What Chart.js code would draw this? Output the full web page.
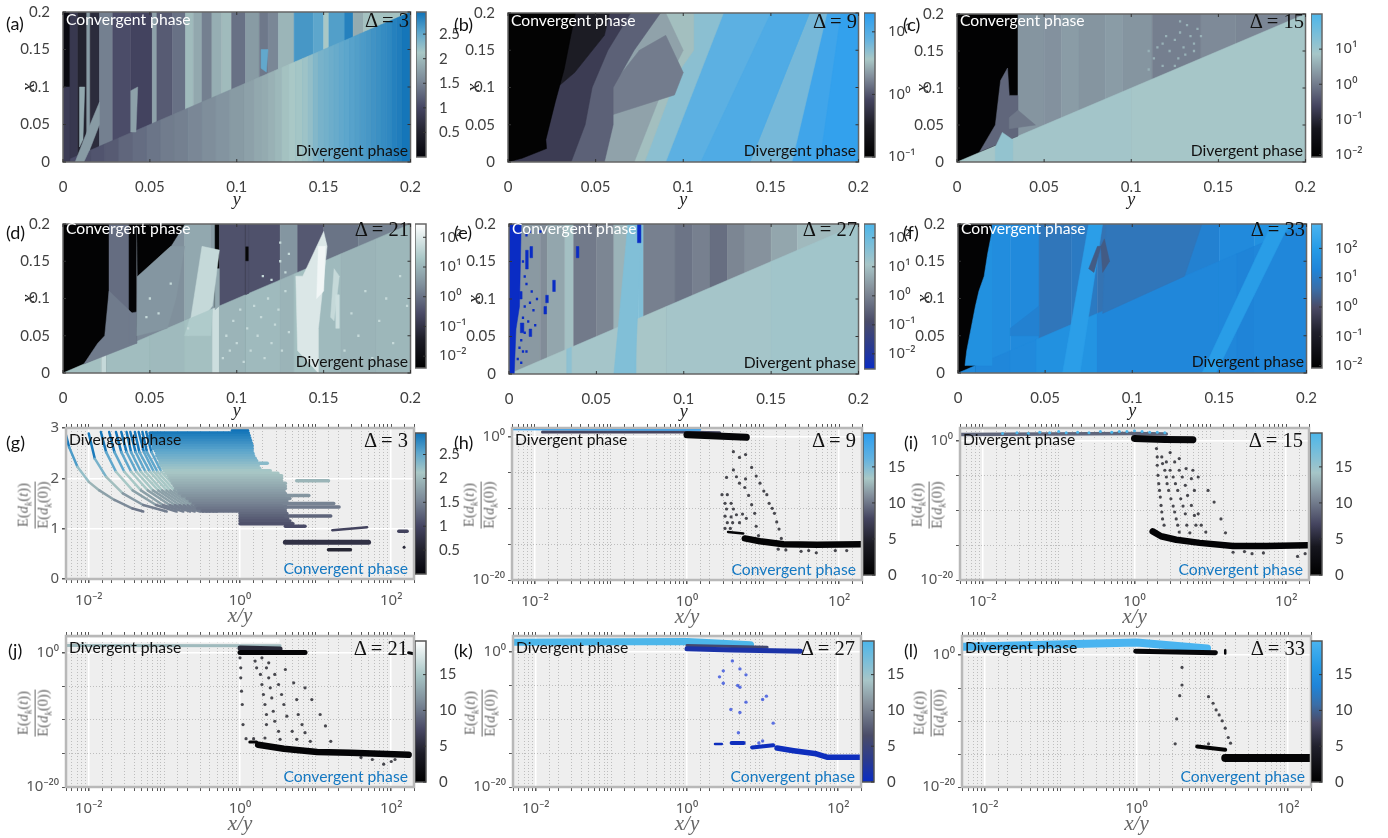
<!DOCTYPE html>
<html>
<head>
<meta charset="utf-8">
<script src="https://cdn.jsdelivr.net/npm/chart.js@4/dist/chart.umd.js"></script>
<style>
  body { margin: 0; background: #fff; }
  #page { position: relative; width: 1388px; height: 838px; overflow: hidden; font-family: Lato, sans-serif; }
  canvas { position: absolute; }
  .lbl { position: absolute; white-space: nowrap; line-height: 1; transform: translateY(-50%); }
  .panel { font-size: 18px; color: #111; }
  .phase { font-size: 15.7px; }
  .delta { font-family: "Liberation Serif", serif; font-size: 20.5px; color: #111; }
  .frac { position: absolute; transform: translate(-50%, -50%) rotate(-90deg); text-align: center; font: 14.5px "Liberation Serif", serif; color: #666; white-space: nowrap; line-height: 1.05; }
  .frac i { font-style: italic; }
  .frac div:first-child { border-bottom: 1px solid #666; padding-bottom: 1px; }
  .frac sub { font-size: 10px; }
</style>
</head>
<body>
<div id="page"></div>
<script>
// ─── Tick values ─────────────────────────────────────────────────────────
const heatTicks = [0, 0.05, 0.1, 0.15, 0.2];
const ratioTicks = [0, 1, 2, 3];
const growthTicks = [1e-20, 1e-15, 1e-10, 1e-5, 1];
const barTicksA = [0.5, 1, 1.5, 2, 2.5];
const barTicksB = [0.1, 1, 10];
const barTicksC = [0.01, 0.1, 1, 10];
const barTicksD = [0.01, 0.1, 1, 10, 100];
const barTicksLinear = [0, 5, 10, 15];

// ─── Heat maps: [y start, colour bar level 0-100] ────────────────────────
const aUpper = [[0,3],[.004,28],[.0086,18],[.0137,58],[.0156,22],[.021,50],[.0286,36],[.039,33],[.0514,60],[.054,40],[.063,46],[.0705,68],[.075,62],[.08,50],[.0857,64],[.0914,68],[.097,46],[.105,58],[.113,48],[.118,52],[.124,66],[.133,90],[.144,86],[.15,72],[.153,88],[.162,96],[.167,63],[.173,70]];
const aLower = [[0,36],[.008,37],[.016,38],[.024,40],[.032,43],[.04,45],[.048,47],[.056,49],[.064,50],[.072,52],[.08,54],[.088,56],[.096,58],[.104,60],[.11,62],[.114,63],[.118,65],[.122,67],[.126,70],[.13,72],[.134,73],[.138,74],[.141,76],[.144,79],[.147,81],[.15,82],[.153,83],[.156,84],[.159,85],[.162,86],[.165,87],[.168,88],[.171,89],[.174,90],[.177,91],[.18,92],[.183,93],[.186,94],[.189,96],[.192,97],[.195,99]];
// patches: [level, y, x, y, x, ...] painted after the stripes
const aPatches = [
  [30,0,0,.004,0,.004,.1,0,.1],
  [58,.007,0,.012,.03,.021,.08,.021,.05,.016,.02,.012,0],
  [60,.039,.04,.042,.04,.043,.1,.039,.095],
  [85,.114,.125,.117,.12,.118,.15,.114,.15],
  [62,.0095,.02,.0115,.03,.0125,.1,.0095,.1],
];

const bPatches = [
  [93,0,0,.2,0,.2,.2,0,.2],
  [97,.178,0,.2,0,.2,.2,.19,.2],
  [100,.12,0,.14,0,.175,.2,.168,.2],
  [78,.138,0,.162,0,.182,.2,.172,.2],
  [84,.09,0,.138,0,.172,.2,.123,.2],
  [88,.11,0,.138,0,.172,.2,.15,.2],
  [74,.078,0,.09,0,.123,.2,.106,.2],
  [66,0,0,.078,0,.097,.12,.106,.15,.106,.2,0,.2],
  [60,0,0,.072,0,.087,.09,.1,.15,.09,.2,0,.2],
  [52,.055,.06,.095,.09,.1,.12,.09,.17,.075,.15,.055,.09],
  [46,0,0,.055,0,.06,.05,.06,.1,.072,.15,.087,.2,0,.2],
  [36,0,0,.036,0,.044,.05,.048,.1,.057,.15,.07,.2,0,.2],
  [22,.028,.1,.038,.12,.055,.17,.058,.2,.036,.2],
  [2,0,0,.008,.005,.022,.018,.0216,.03,.027,.081,.032,.124,.0357,.168,.0385,.2,0,.2],
];

const cUpper = [[0,2],[.035,58],[.05,57],[.06,60],[.07,58],[.085,60],[.095,58],[.112,52],[.14,55],[.16,54]];
const cLower = [[0,72],[.03,73],[.1,72]];
const cPatches = [
  [45,.013,.014,.022,.05,.025,.11,.029,.127,.03,.09,.035,.09,.035,.035],
  [50,.03,.045,.045,.05,.035,.07,.03,.06],
  [78,.022,0,.032,0,.032,.03,.026,.04,.022,.02],
];
// stipple: [y, x] isolated cells
const cStipple = [[.11,.125],[.113,.14],[.115,.155],[.118,.13],[.12,.17],[.122,.15],[.125,.165],[.127,.14],[.128,.175],[.13,.155],[.132,.185],[.134,.17],[.136,.16],[.138,.18],[.14,.17],[.125,.13],[.118,.16],[.131,.145],[.136,.15],[.128,.19],[.11,.15]];

const dUpper = [[0,2],[.0265,48],[.038,3],[.0425,56],[.06,58],[.07,66],[.085,62],[.0875,4],[.09,40],[.105,4],[.107,40],[.125,60],[.135,42],[.15,50],[.17,54]];
const dLower = [[0,74],[.022,84],[.025,73],[.05,72],[.07,74],[.086,86],[.09,70],[.105,72],[.125,70],[.133,74],[.147,72],[.16,70],[.18,71]];
const dPatches = [
  [52,.012,.012,.02,.04,.024,.05,.0265,.11,.04,.08,.0425,.04],
  [2,.043,.13,.048,.14,.062,.17,.07,.2,.0425,.2],
  [52,.038,.04,.0425,.04,.0425,.082,.038,.08],
  [60,.0425,.05,.06,.06,.065,.1,.07,.17,.062,.17,.043,.13],
  [66,.0875,.085,.09,.09,.09,.14,.0875,.14],
  [40,.105,.105,.107,.107,.107,.15,.105,.15],
  [40,.105,.17,.107,.17,.107,.2,.105,.2],
  [84,.072,.05,.086,.09,.09,.165,.08,.17],
  [78,.07,.05,.085,.05,.086,.086,.073,.073],
  [90,.135,.03,.147,0,.147,.06,.152,.17,.15,.19,.138,.13,.134,.13],
  [96,.146,.1,.15,.11,.151,.17,.147,.17],
  [84,.154,.075,.156,.07,.159,.13,.156,.14],
  [86,.157,.06,.159,.06,.159,.105,.157,.105],
];
const dStipple = [[.092,.02],[.094,.05],[.096,.03],[.098,.07],[.1,.04],[.102,.085],[.104,.015],[.106,.06],[.108,.03],[.11,.09],[.112,.05],[.114,.075],[.116,.02],[.118,.1],[.12,.04],[.122,.065],[.124,.085],[.126,.03],[.128,.11],[.13,.055],[.162,.03],[.166,.08],[.17,.05],[.174,.11],[.178,.02],[.182,.07],[.186,.1],[.19,.04],[.194,.13],[.198,.09],[.115,.13],[.12,.125],[.125,.15],[.128,.135],[.125,.175],[.13,.16],[.072,.06],[.076,.095],[.055,.08],[.05,.1],[.062,.12],[.048,.075]];

const eUpper = [[0,58],[.018,54],[.022,62],[.032,70],[.037,48],[.05,52],[.06,66],[.068,84],[.074,84],[.077,50],[.095,46],[.105,50],[.115,44],[.125,52],[.135,56],[.15,62],[.165,68]];
const eLower = [[0,72],[.033,80],[.036,73],[.068,84],[.073,72],[.09,73],[.15,74]];
const ePatches = [
  [84,.06,0,.072,0,.076,.2,.068,.2],
  [0,0,0,.003,0,.004,.06,.006,.09,.007,.2,0,.2],
  [0,.0735,.175,.0755,.175,.0755,.2,.0735,.2],
  [0,.0095,.14,.011,.14,.011,.165,.0095,.165],
  [0,.012,.155,.0135,.155,.0135,.17,.012,.17],
  [0,.025,.11,.0265,.11,.0265,.125,.025,.125],
  [0,.021,.095,.0225,.095,.0225,.105,.021,.105],
  [0,.0385,.155,.04,.155,.04,.17,.0385,.17],
  [0,.006,.1,.0075,.1,.0075,.11,.006,.11],
  [0,.0065,.055,.0085,.055,.0085,.068,.0065,.068],
  [0,.0115,.05,.013,.05,.013,.06,.0115,.06],
  [0,.02,.08,.0215,.08,.0215,.09,.02,.09],
];
const eStipple = [[.005,.02],[.006,.035],[.007,.045],[.008,.075],[.009,.09],[.01,.03],[.011,.07],[.012,.095],[.013,.11],[.014,.085],[.015,.065],[.016,.1],[.01,.12],[.009,.13],[.008,.15],[.01,.185],[.012,.19],[.018,.19],[.008,.03],[.007,.015],[.009,.055]];

const fUpper = [[0,2],[.0195,74],[.03,72],[.0465,60],[.065,62],[.08,58],[.1,62],[.13,66],[.15,72],[.17,76]];
const fLower = [[0,72],[.01,70],[.03,72],[.045,76],[.07,78],[.08,70],[.15,70],[.16,68],[.17,70]];
const fPatches = [
  [76,.004,.01,.0195,.01,.0195,.19,.017,.16,.015,.13,.012,.11,.01,.09,.005,.03],
  [66,.03,.05,.0465,.05,.0465,.09,.03,.06],
  [85,.06,0,.07,0,.083,.2,.075,.2],
  [60,.083,.08,.13,.13,.14,.2,.085,.2],
  [84,.14,0,.148,0,.19,.2,.18,.2],
  [48,.075,.14,.08,.17,.082,.17,.078,.135],
  [48,.083,.135,.087,.15,.084,.18,.082,.17],
];

// ─── Scatter panels: values in decades, [log10(x/y), log10(ratio)] ───────
// (g) rows: [ratio, left decade, right decade]
const gRows = [[2.95,-.1,.1],[2.9,-1.19,.11],[2.85,-1.19,.12],[2.8,-1.19,.13],[2.75,-1.19,.14],[2.7,-1.19,.15],[2.65,-1.15,.16],[2.6,-1.15,.16],[2.55,-1.12,.16],[2.5,-1.1,.17],[2.45,-1.1,.18],[2.4,-1.08,.2],[2.35,-1.06,.22],[2.3,-1.06,.36],[2.25,-1.04,.24],[2.2,-1.02,.26],[2.15,-1,.4],[2.1,-.98,.5],[2.05,-.95,.55],[2,-.93,.55],[1.95,-.91,.55],[1.9,-.89,.6],[1.85,-.87,.6],[1.8,-.85,.6],[1.75,-.82,.58],[1.7,-.8,.6],[1.65,-.76,.66],[1.6,-.7,.66],[1.55,-.66,.62],[1.5,-.62,.62],[1.45,-.58,.6],[1.4,-.56,.6],[1.35,-.5,.6],[1.3,0,.62],[1.25,0,.6],[1.2,0,.63],[1.15,0,.66],[1.1,0,.7],[1.05,.6,.86],[1.95,.75,1.17],[1.66,.62,.91],[1.5,.58,1.24],[1.43,.6,1.31],[1.25,.6,1.2],[.73,.6,1.7],[.58,1.17,1.46],[.95,2.1,2.21]];
const gArcTops = [2.92, 2.52, 2.13, 1.76, 1.47, 1.34];
const gArcs = [
  [-1.84,-1.77,-1.64,-1.42,-1.11,-.84],
  [-1.73,-1.66,-1.53,-1.31,-1.02,-.75],
  [-1.64,-1.57,-1.44,-1.22,-.93,-.66],
  [-1.57,-1.50,-1.37,-1.15,-.86,-.60],
  [-1.50,-1.44,-1.31,-1.08,-.80,-.53],
  [-1.45,-1.38,-1.25,-1.03,-.74,-.49],
  [-1.39,-1.33,-1.19,-.97,-.69,-.44],
  [-1.34,-1.27,-1.14,-.92,-.64,-.40],
  [-1.29,-1.23,-1.09,-.87,-.60,-.35],
  [-1.24,-1.17,-1.04,-.82,-.55,-.31],
];
const gArcOuter = [[-2.31,2.91],[-2.26,2.62],[-2.15,2.23],[-2,1.93],[-1.86,1.76],[-1.66,1.57],[-1.42,1.40],[-1.28,1.34]];
const gArcSecond = [[-2,2.89],[-1.92,2.39],[-1.77,2.03],[-1.55,1.70],[-1.28,1.47],[-.97,1.34]];
const gTilted = [[1.22,.97],[1.68,1.03]];
const gDots = [[2.17,.63]];

const hDots = [[.61,-2.1],[.69,-2.9],[.77,-2.5],[.61,-4.65],[.85,-4.3],[.52,-5.7],[.65,-5.6],[.77,-5.9],[.91,-5.5],[.69,-6.5],[.76,-7.1],[.96,-6.5],[.46,-8.1],[.53,-8.1],[.81,-8.2],[1.01,-7.6],[1.05,-8.1],[.5,-9.3],[.58,-9.3],[.85,-9.5],[1.08,-9.3],[.52,-10.1],[.61,-10.1],[.89,-10.7],[1.12,-10],[1.15,-10.7],[.5,-11.1],[.58,-11.2],[.65,-10.9],[.73,-10.8],[.78,-11.4],[1.18,-11.9],[.53,-12],[.6,-12],[.69,-12],[.91,-12.5],[1.21,-12.9],[.5,-12.8],[.57,-12.8],[.94,-13.8],[1.24,-14.2],[1.3,-15.8],[1.5,-16],[1.6,-15.9],[1.7,-16.2],[1.95,-15.9],[2.1,-15.9],[1.2,-15.7]];
const hCyan = [[-2.32,1.05],[.17,1.0]];
const hSlate = [[-1.9,.65],[-.05,.65],[.43,.55]];
const hTop = [[0,.25],[.39,.1],[.78,-.1]];
const hLowA = [[.54,-13.3],[.74,-13.5]];
const hLowB = [[.76,-14.2],[.96,-14.6],[1.27,-15],[1.71,-15.1],[2.32,-15]];

const iDots = [[.29,-1.06],[.3,-2.27],[.3,-3.47],[.31,-4.92],[.32,-6.12],[.33,-7.09],[.34,-8.05],[.35,-9.25],[.36,-10.2],[.37,-11.2],[.39,-12.1],
  [.36,-2.27],[.37,-3.23],[.4,-4.19],[.42,-5.16],[.43,-6.12],[.45,-7.09],[.48,-8.29],[.51,-9.35],[.53,-10.2],[.55,-11.2],[.57,-12.1],[.59,-13.1],
  [.42,-2.99],[.47,-4.19],[.51,-5.16],[.54,-6.12],[.57,-7.09],[.61,-8.29],[.64,-9.35],[.67,-10.46],[.69,-12.1],[.73,-13.2],
  [.47,-1.64],[.53,-2.99],[.59,-4.19],[.63,-5.16],[.67,-6.36],[.7,-7.81],[.75,-9.25],[.79,-10.7],[.81,-12.1],
  [.59,-2.5],[.68,-3.95],[.75,-5.4],[.79,-7.09],[.84,-10.46],[.88,-12.1],[.94,-13.1],
  [.77,-4.19],[.84,-5.16],[.97,-7.09],[1.05,-8.77],[1.14,-11.2],[1.2,-13.2],
  [1.3,-16],[1.45,-15.9],[1.55,-16.2],[1.7,-16.1],[2.15,-16.6],[2.25,-16.2]];
const iFlecks = [[-1.74,1.1],[-1.55,1.2],[-1.4,1.1],[-1.25,1.3],[-1.12,1.2],[-1,1.4],[-.9,1.2],[-.75,1.3],[-.6,1.2],[-.45,1.4],[-.3,1.3],[-.2,1.4],[-.1,1.4],[0,1.5],[.1,1.4],[.2,1.3],[.3,1.3],[.4,1.2]];
const iSlate = [[-2.29,.96],[-.02,1.1],[.42,1.05]];
const iTop = [[0,.4],[.4,.25],[.77,.2]];
const iLow = [[.24,-13],[.35,-13.7],[.55,-14.2],[.86,-14.65],[1.3,-15.1],[1.74,-15.1],[2.29,-15]];

const jDots = [[0,-.75],[.01,-2.24],[.01,-3.73],[.02,-5.72],[.03,-7.71],[.04,-10.7],
  [.2,-1.24],[.22,-2.24],[.27,-3.23],[.29,-4.73],[.31,-6.22],[.33,-7.71],[.35,-9.2],[.35,-10.7],[.33,-12.7],
  [.29,-.75],[.35,-2.24],[.38,-3.73],[.4,-5.22],[.42,-6.72],[.44,-8.71],[.46,-10.2],[.51,-11.7],[.53,-12.9],
  [.38,-1.49],[.46,-3.23],[.51,-4.73],[.55,-6.22],[.58,-7.71],[.62,-9.45],[.69,-11.7],[.75,-12.9],
  [.6,-2.49],[.71,-4.48],[.75,-6.97],[.77,-9.2],[.82,-10.7],[.86,-11.9],[.93,-13.2],
  [.86,-5.22],[.95,-6.97],[1.06,-9.2],[1.13,-10.9],[1.2,-13.2],
  [1.9,-16.6],[2.0,-16.2],[2.05,-15.9],[1.6,-15.6],[1.75,-15.9],[.08,-12.8],[.18,-12.8]];
const jWhite = [[-2.3,1.9],[.5,1.8]];
const jPale = [[-2.3,1.1],[.53,1.05]];
const jSlate = [[0,.7],[.53,.55]];
const jTop = [[0,.05],[.3,.05],[.86,.05]];
const jLowA = [[.13,-13.3],[.22,-13.3]];
const jLowB = [[.24,-13.7],[.58,-14.3],[1.02,-14.8],[1.46,-14.9],[2.23,-15.2]];
const jCorner = [[2.23,0],[2.3,-.15]];

const kDots = [[.6,-1.38],[.48,-2.85],[.7,-2.56],[.43,-3.73],[.78,-3.44],[.48,-4.67],[.67,-5.01],[.7,-5.26],[1.05,-6.58],[1,-7.08],[.78,-7.47],[.58,-8.55],[.7,-8.99],[1.14,-10.57],[.68,-11.99],[1.0,-13.2],[.95,-13.5]];
const kCyan = [[-2.29,1.38],[0,1.5],[.84,1]];
const kSlate = [[0,.9],[1.06,.65]];
const kNavy = [[0,.4],[.6,.25],[1.5,.05]];
const kLowA = [[.37,-13.66],[.46,-13.66]];
const kLowB = [[.59,-13.5],[.75,-13.5]];
const kLowC = [[.86,-14.15],[1.14,-13.85]];
const kLowD = [[1.19,-14.25],[1.41,-14.64],[1.71,-15.1],[1.85,-15.6],[2.29,-15.6]];

const lDots = [[.6,-1.86],[.6,-4.53],[.57,-6.15],[.53,-9.67],[.95,-6.3],[1.01,-7.3],[1.05,-8.31],[1.09,-9.07],[1.13,-9.97],[1.17,-11.08],[1.21,-12.49],[1.24,-13.35],[.51,-13.45],[.95,-13.45]];
const lCyan = [[-2.28,1.26],[0,1.9],[.93,1]];
const lTop = [[-.01,.6],[1.04,.35]];
const lSpot = [[1.17,.75],[1.17,.25]];
const lLowA = [[.8,-13.85],[1.17,-14.36]];
const lLowB = [[1.17,-15.6],[2.29,-15.6]];

// ─── Colour bars, bottom to top ──────────────────────────────────────────
const mapA = [[0,'#04040a'],[.18,'#23232f'],[.34,'#454562'],[.52,'#7a8796'],[.72,'#a9c8c6'],[.86,'#5da6cc'],[1,'#0f72b8']];
const mapB = [[0,'#000000'],[.22,'#1c1c24'],[.4,'#454560'],[.56,'#838f9c'],[.68,'#a9c8c6'],[.82,'#62b2e0'],[1,'#2a9df0']];
const mapC = [[0,'#000000'],[.2,'#16161e'],[.36,'#454560'],[.55,'#7e8a98'],[.72,'#a6c6c8'],[1,'#4cb6ea']];
const mapD = [[0,'#000000'],[.2,'#1c1c26'],[.38,'#4a4a66'],[.58,'#80909c'],[.76,'#a8c6c6'],[1,'#ffffff']];
const mapE = [[0,'#0a2cc4'],[.15,'#2a3a90'],[.33,'#4a4c68'],[.55,'#848f9a'],[.72,'#a8c6c8'],[1,'#4cb6ea']];
const mapF = [[0,'#000000'],[.25,'#20202c'],[.42,'#4a4a66'],[.55,'#3a6ea8'],[.68,'#1f84d8'],[.82,'#259ae6'],[1,'#4ab4f0']];

// ─── Helpers ─────────────────────────────────────────────────────────────
const page = document.getElementById('page');
const FONT = 'Lato, sans-serif';
const TICK_COLOR = '#404040';

function hex(c) { return [1, 3, 5].map(i => parseInt(c.substr(i, 2), 16)); }

/** Colour at position t (0-1) on a colour bar */
function colorAt(map, t) {
    for (let i = 1; i < map.length; i++) {
        if (t <= map[i][0]) {
            const f = (t - map[i - 1][0]) / (map[i][0] - map[i - 1][0]);
            const a = hex(map[i - 1][1]), b = hex(map[i][1]);
            return `rgb(${a.map((v, k) => Math.round(v + (b[k] - v) * f)).join(',')})`;
        }
    }
    return map[map.length - 1][1];
}

function addCanvas(left, top, width, height) {
    const c = document.createElement('canvas');
    c.width = width; c.height = height;
    c.style.left = left + 'px'; c.style.top = top + 'px';
    c.style.width = width + 'px'; c.style.height = height + 'px';
    page.appendChild(c);
    return c;
}

function addLabel(cls, text, left, cy, color, right) {
    const d = document.createElement('div');
    d.className = 'lbl ' + cls;
    d.textContent = text;
    d.style.top = cy + 'px';
    if (right !== undefined) d.style.right = (1388 - right) + 'px';
    else d.style.left = left + 'px';
    if (color) d.style.color = color;
    page.appendChild(d);
}

function addFraction(cx, cy) {
    const d = document.createElement('div');
    d.className = 'frac';
    d.style.left = cx + 'px'; d.style.top = cy + 'px';
    d.innerHTML = '<div>E(<i>d<sub>k</sub></i>(<i>t</i>))</div><div>E(<i>d<sub>k</sub></i>(0))</div>';
    page.appendChild(d);
}

const SUP = { '-': '⁻', '0': '⁰', '1': '¹', '2': '²' };
function powerLabel(v) {
    return '10' + String(Math.round(Math.log10(v))).split('').map(c => SUP[c]).join('');
}

// Fill a dataset's points as a polygon, positions come from the scales
const regionFill = {
    id: 'regionFill',
    beforeDatasetDraw(chart, args) {
        const ds = chart.data.datasets[args.index];
        if (!ds.regionColor) return;
        const { ctx, chartArea: a } = chart;
        ctx.save();
        ctx.beginPath();
        ctx.rect(a.left, a.top, a.right - a.left, a.bottom - a.top);
        ctx.clip();
        ctx.beginPath();
        args.meta.data.forEach((p, i) => i ? ctx.lineTo(p.x, p.y) : ctx.moveTo(p.x, p.y));
        ctx.closePath();
        ctx.fillStyle = ds.regionColor;
        ctx.strokeStyle = ds.regionColor;
        ctx.lineWidth = 0.5;
        ctx.fill();
        ctx.stroke();
        ctx.restore();
    }
};

const plotBackground = {
    id: 'plotBackground',
    beforeDraw(chart, args, opts) {
        if (!opts.color) return;
        const a = chart.chartArea;
        chart.ctx.fillStyle = opts.color;
        chart.ctx.fillRect(a.left, a.top, a.right - a.left, a.bottom - a.top);
    }
};

// Frame round the plot, with optional short ticks pointing inward
const plotFrame = {
    id: 'plotFrame',
    afterDraw(chart, args, opts) {
        const { ctx, chartArea: a, scales } = chart;
        ctx.save();
        ctx.strokeStyle = opts.color;
        ctx.lineWidth = opts.width;
        ctx.strokeRect(a.left, a.top, a.right - a.left, a.bottom - a.top);
        if (opts.inner) {
            ctx.lineWidth = 1;
            ctx.strokeStyle = '#333';
            ctx.beginPath();
            if (scales.x.options.display) {
                scales.x.ticks.forEach(t => {
                    const p = scales.x.getPixelForValue(t.value);
                    ctx.moveTo(p, a.top); ctx.lineTo(p, a.top + 3);
                    ctx.moveTo(p, a.bottom); ctx.lineTo(p, a.bottom - 3);
                });
            }
            scales.y.ticks.forEach(t => {
                const p = scales.y.getPixelForValue(t.value);
                ctx.moveTo(a.right, p); ctx.lineTo(a.right - 3, p);
                if (scales.x.options.display) { ctx.moveTo(a.left, p); ctx.lineTo(a.left + 3, p); }
            });
            ctx.stroke();
        }
        ctx.restore();
    }
};

function polygon(level, coords, map) {
    const data = [];
    for (let i = 0; i < coords.length; i += 2) data.push({ x: coords[i], y: coords[i + 1] });
    return { data, regionColor: colorAt(map, level / 100), pointRadius: 0, showLine: false };
}

/** Stripes above the x=y line run full height, stripes below stop at the line */
function heatDatasets(cfg) {
    const { upper, lower, patches, map } = cfg;
    const sets = [];
    upper.forEach(([y0, level], i) => {
        const y1 = i + 1 < upper.length ? upper[i + 1][0] : 0.2;
        sets.push(polygon(level, [y0, 0, y1, 0, y1, 0.2, y0, 0.2], map));
    });
    lower.forEach(([y0, level], i) => {
        const y1 = i + 1 < lower.length ? lower[i + 1][0] : 0.2;
        sets.push(polygon(level, [y0, 0, y1, 0, y1, y1, y0, y0], map));
    });
    patches.forEach(p => sets.push(polygon(p[0], p.slice(1), map)));
    if (cfg.stipple) {
        sets.push({
            data: cfg.stipple.map(([a, b]) => ({ x: a, y: b })),
            showLine: false, pointStyle: 'rect', pointRadius: 1.6, pointBorderWidth: 0,
            pointBackgroundColor: colorAt(map, cfg.stippleLevel / 100)
        });
    }
    return sets.reverse(); // Chart.js paints the first dataset last
}

// ─── Colour bar chart ────────────────────────────────────────────────────
function colourBar(left, top, width, height, map, min, max, ticks, type, frameColor) {
    const AXIS = 48;
    const canvas = addCanvas(left, top - 9, width + AXIS, height + 18);
    new Chart(canvas, {
        type: 'bar',
        data: {
            labels: [''],
            datasets: [{
                data: [[min, max]],
                barPercentage: 1,
                categoryPercentage: 1,
                backgroundColor: ctx => {
                    const a = ctx.chart.chartArea;
                    if (!a) return '#000';
                    const g = ctx.chart.ctx.createLinearGradient(0, a.bottom, 0, a.top);
                    map.forEach(([t, c]) => g.addColorStop(t, c));
                    return g;
                }
            }]
        },
        options: {
            responsive: false, animation: false,
            layout: { padding: { top: 9, bottom: 9 } },
            plugins: { legend: { display: false }, tooltip: { enabled: false }, plotFrame: { color: frameColor, width: 1.5, inner: true } },
            scales: {
                x: { display: false },
                y: {
                    type, position: 'right', min, max,
                    afterFit: s => { s.width = AXIS; },
                    afterBuildTicks: s => { s.ticks = ticks.map(v => ({ value: v })); },
                    grid: { display: false },
                    border: { display: false },
                    ticks: {
                        padding: 5, color: TICK_COLOR,
                        font: { family: type === 'logarithmic' ? 'Noto Sans' : FONT, size: 15 },
                        callback: v => type === 'logarithmic' ? powerLabel(v) : String(v)
                    }
                }
            }
        },
        plugins: [plotFrame]
    });
}

// ─── Heat map panel ──────────────────────────────────────────────────────
function heatPanel(cfg) {
    const [l, t, w, h] = cfg.rect;
    const L = 49, T = 9, R = 14, B = 53;
    const canvas = addCanvas(l - L, t - T, L + w + R, T + h + B);
    new Chart(canvas, {
        type: 'scatter',
        data: { datasets: heatDatasets(cfg) },
        options: {
            responsive: false, animation: false,
            layout: { padding: { top: T, right: R } },
            plugins: { legend: { display: false }, tooltip: { enabled: false }, plotFrame: { color: '#666', width: 1.5, inner: true } },
            scales: {
                x: {
                    type: 'linear', min: 0, max: 0.2,
                    afterFit: s => { s.height = B; },
                    afterBuildTicks: s => { s.ticks = heatTicks.map(v => ({ value: v })); },
                    grid: { display: false }, border: { display: false },
                    ticks: { padding: 8, maxRotation: 0, color: TICK_COLOR, font: { family: FONT, size: 15 }, callback: v => String(v) },
                    title: { display: true, text: 'y', color: '#222', font: { family: 'Liberation Serif', style: 'italic', size: 18 } }
                },
                y: {
                    type: 'linear', min: 0, max: 0.2,
                    afterFit: s => { s.width = L; },
                    afterBuildTicks: s => { s.ticks = heatTicks.map(v => ({ value: v })); },
                    grid: { display: false }, border: { display: false },
                    ticks: { padding: 5, color: TICK_COLOR, font: { family: FONT, size: 15 }, callback: v => String(v) },
                    title: { display: true, text: 'x', color: '#222', font: { family: 'Liberation Serif', style: 'italic', size: 18 } }
                }
            }
        },
        plugins: [regionFill, plotFrame]
    });
    colourBar(cfg.bar[0], t, cfg.bar[1], h, cfg.map, cfg.barMin, cfg.barMax, cfg.barTicks, cfg.barType, '#666');
    addLabel('panel', cfg.name, cfg.nameX, t + cfg.nameDy);
    addLabel('phase', 'Convergent phase', l + 3, t + cfg.nameDy - 3, '#fff');
    addLabel('phase', 'Divergent phase', 0, t + h - 11, '#111', l + w - 7);
    addLabel('delta', cfg.delta, 0, t + cfg.nameDy - 3, null, l + w - 6);
}

// ─── Scatter panel ───────────────────────────────────────────────────────
function decades(list) { return list.map(([a, b]) => ({ x: 10 ** a, y: 10 ** b })); }
function lineSet(data, color, width) {
    return { data, showLine: true, pointRadius: 0, borderColor: color, borderWidth: width, borderCapStyle: 'round', borderJoinStyle: 'round' };
}
function dotSet(data, color, radius) {
    return { data, showLine: false, pointRadius: radius, pointBackgroundColor: color, pointBorderWidth: 0 };
}

function isMajorDecade(v) {
    return Math.abs(Math.log10(v) % 2) < 1e-6;
}

function scatterPanel(cfg) {
    const [l, t, w, h] = cfg.rect;
    const L = 49, T = 12, R = 14, B = 50;
    const canvas = addCanvas(l - L, t - T, L + w + R, T + h + B);
    const logY = cfg.yType === 'logarithmic';
    const solidY = c => c.tick && (logY ? c.tick.value === 1 : true);
    new Chart(canvas, {
        type: 'scatter',
        data: { datasets: cfg.datasets.slice().reverse() },
        options: {
            responsive: false, animation: false,
            layout: { padding: { top: 8, right: R } },
            plugins: {
                legend: { display: false }, tooltip: { enabled: false },
                plotBackground: { color: '#eeeeee' },
                plotFrame: { color: '#b8b8b8', width: 2.5 }
            },
            scales: {
                xTop: {
                    type: 'logarithmic', axis: 'x', position: 'top', min: 0.005, max: 200,
                    afterFit: s => { s.height = 4; },
                    grid: { drawOnChartArea: false, tickLength: 4, tickColor: '#555' },
                    border: { display: false },
                    ticks: { autoSkip: false, maxRotation: 0, padding: 0, callback: () => '' }
                },
                x: {
                    type: 'logarithmic', min: 0.005, max: 200,
                    afterFit: s => { s.height = B; },
                    grid: {
                        tickLength: 4, tickColor: '#555',
                        color: c => (c.tick && isMajorDecade(c.tick.value)) ? '#ffffff' : '#bdbdbd',
                        lineWidth: c => (c.tick && isMajorDecade(c.tick.value)) ? 1.5 : 1
                    },
                    border: { display: false, dash: c => (c.tick && isMajorDecade(c.tick.value)) ? [] : [1, 2] },
                    ticks: {
                        autoSkip: false, maxRotation: 0, padding: 9, color: '#555',
                        font: { family: 'Noto Sans', size: 15 },
                        callback: v => isMajorDecade(v) ? powerLabel(v) : ''
                    },
                    title: { display: true, text: 'x/y', color: '#666', font: { family: 'Liberation Serif', style: 'italic', size: 21 }, padding: 0 }
                },
                y: {
                    type: cfg.yType, min: cfg.yMin, max: cfg.yMax,
                    afterFit: s => { s.width = L; },
                    afterBuildTicks: s => { s.ticks = cfg.yTicks.map(v => ({ value: v })); },
                    grid: {
                        drawTicks: true, tickLength: 4, tickColor: '#555',
                        color: c => solidY(c) ? '#ffffff' : '#bdbdbd',
                        lineWidth: c => solidY(c) ? 1.5 : 1
                    },
                    border: { display: false, dash: c => solidY(c) ? [] : [1, 2] },
                    ticks: {
                        padding: 3, color: '#555', font: { family: 'Noto Sans', size: 15 },
                        callback: v => logY ? ((v === 1 || v === 1e-20) ? powerLabel(v) : '') : String(v)
                    }
                }
            }
        },
        plugins: [plotBackground, plotFrame]
    });
    colourBar(cfg.bar[0], t, cfg.bar[1], h, cfg.map, cfg.barMin, cfg.barMax, cfg.barTicks, 'linear', '#555');
    addLabel('panel', cfg.name, cfg.nameX, t + 14);
    addLabel('phase', 'Divergent phase', l + 3, t + 12, '#111');
    addLabel('phase', 'Convergent phase', 0, t + h - 10, '#1478c2', l + w - 6);
    addLabel('delta', cfg.delta, 0, t + 12, null, l + w - 6);
    addFraction(l - 31, t + h / 2 + 1);
}

function growthPanel(name, nameX, delta, rect, barRect, map, top, dots, dotColor, dotRadius, bands, flecks) {
    const datasets = [];
    bands.forEach(([list, width, level]) => datasets.push(lineSet(decades(list), colorAt(map, level / 100), width)));
    if (flecks) datasets.push(dotSet(decades(flecks), colorAt(map, 1), 1.5));
    datasets.push(dotSet(decades(dots), dotColor, dotRadius));
    scatterPanel({
        name, nameX, delta, rect, bar: barRect, map, datasets,
        yType: 'logarithmic', yMin: 1e-20, yMax: 10 ** top, yTicks: growthTicks,
        barMin: 0, barMax: 19.7, barTicks: barTicksLinear
    });
}

// ─── Top two rows ────────────────────────────────────────────────────────
heatPanel({ name: '(a)', nameX: 6, nameDy: 16, delta: 'Δ = 3', rect: [63, 7, 352, 155], bar: [416, 10], map: mapA, upper: aUpper, lower: aLower, patches: aPatches, barMin: 0, barMax: 2.95, barTicks: barTicksA, barType: 'linear' });
heatPanel({ name: '(b)', nameX: 454, nameDy: 16, delta: 'Δ = 9', rect: [508, 8, 355, 154], bar: [864, 11], map: mapB, upper: [], lower: [], patches: bPatches, barMin: 0.1, barMax: 20, barTicks: barTicksB, barType: 'logarithmic' });
heatPanel({ name: '(c)', nameX: 903, nameDy: 15, delta: 'Δ = 15', rect: [957, 9, 353, 153], bar: [1311, 11], map: mapC, upper: cUpper, lower: cLower, patches: cPatches, stipple: cStipple, stippleLevel: 66, barMin: 0.0085, barMax: 100, barTicks: barTicksC, barType: 'logarithmic' });
heatPanel({ name: '(d)', nameX: 6, nameDy: 13, delta: 'Δ = 21', rect: [63, 219, 352, 154], bar: [415, 11], map: mapD, upper: dUpper, lower: dLower, patches: dPatches, stipple: dStipple, stippleLevel: 84, barMin: 0.004, barMax: 280, barTicks: barTicksD, barType: 'logarithmic' });
heatPanel({ name: '(e)', nameX: 454, nameDy: 13, delta: 'Δ = 27', rect: [509, 219, 354, 155], bar: [864, 11], map: mapE, upper: eUpper, lower: eLower, patches: ePatches, stipple: eStipple, stippleLevel: 0, barMin: 0.003, barMax: 300, barTicks: barTicksD, barType: 'logarithmic' });
heatPanel({ name: '(f)', nameX: 903, nameDy: 13, delta: 'Δ = 33', rect: [958, 219, 353, 154], bar: [1311, 11], map: mapF, upper: fUpper, lower: fLower, patches: fPatches, barMin: 0.0083, barMax: 680, barTicks: barTicksD, barType: 'logarithmic' });

// ─── Panel (g) ───────────────────────────────────────────────────────────
const gColor = r => colorAt(mapA, r / 2.95);
const gSets = [];
gArcs.forEach(arc => {
    const pts = arc.map((e, i) => ({ x: 10 ** e, y: gArcTops[i] }));
    gSets.push({ ...lineSet(pts, '#888', 2.5), segment: { borderColor: c => gColor(c.p0.parsed.y) } });
});
[gArcOuter, gArcSecond, gTilted].forEach(arc => {
    const pts = arc.map(([e, r]) => ({ x: 10 ** e, y: r }));
    gSets.push({ ...lineSet(pts, '#888', 2.5), segment: { borderColor: c => gColor(c.p0.parsed.y) } });
});
gRows.forEach(([r, a, b]) => {
    gSets.push(lineSet([{ x: 10 ** a, y: r }, { x: 10 ** b, y: r }], gColor(r), r === 0.73 ? 5 : 3.5));
});
gSets.push(dotSet(gDots.map(([e, r]) => ({ x: 10 ** e, y: r })), gColor(0.63), 1.5));
scatterPanel({
    name: '(g)', nameX: 6, delta: 'Δ = 3', rect: [66, 428, 348, 151], bar: [415, 11], map: mapA, datasets: gSets,
    yType: 'linear', yMin: 0, yMax: 3, yTicks: ratioTicks, barMin: 0, barMax: 2.95, barTicks: barTicksA
});

// ─── Panels (h) to (l) ───────────────────────────────────────────────────
const DARK_DOT = 'rgba(30,30,38,0.8)';
growthPanel('(h)', 454, 'Δ = 9', [512, 428, 350, 152], [863, 12], mapB, 1.2, hDots, DARK_DOT, 1.6,
    [[hSlate, 3, 40], [hCyan, 2.5, 100], [hTop, 7, 5], [hLowA, 2.5, 5], [hLowB, 6.5, 3]]);

growthPanel('(i)', 904, 'Δ = 15', [960, 428, 349, 152], [1310, 12], mapC, 1.9, iDots, DARK_DOT, 1.6,
    [[iSlate, 3.5, 45], [iTop, 7, 5], [iLow, 6.5, 3]], iFlecks);

growthPanel('(j)', 8, 'Δ = 21', [66, 636, 348, 151], [415, 11], mapD, 2.5, jDots, DARK_DOT, 1.6,
    [[jWhite, 4, 100], [jPale, 3, 72], [jSlate, 5, 25], [jTop, 5, 3], [jLowA, 3, 3], [jLowB, 6.5, 3], [jCorner, 3, 3]]);

growthPanel('(k)', 454, 'Δ = 27', [513, 636, 348, 151], [862, 12], mapE, 2.3, kDots, 'rgba(30,60,220,0.7)', 1.7,
    [[kCyan, 7, 100], [kSlate, 3, 30], [kNavy, 5, 8], [kLowA, 2.5, 2], [kLowB, 4, 2], [kLowC, 4, 2], [kLowD, 5.5, 2]]);

growthPanel('(l)', 904, 'Δ = 33', [962, 636, 349, 151], [1311, 11], mapF, 2.9, lDots, DARK_DOT, 1.6,
    [[lCyan, 8, 100], [lTop, 5, 5], [lSpot, 2.5, 5], [lLowA, 4, 3], [lLowB, 8, 3]]);
</script>
</body>
</html>
